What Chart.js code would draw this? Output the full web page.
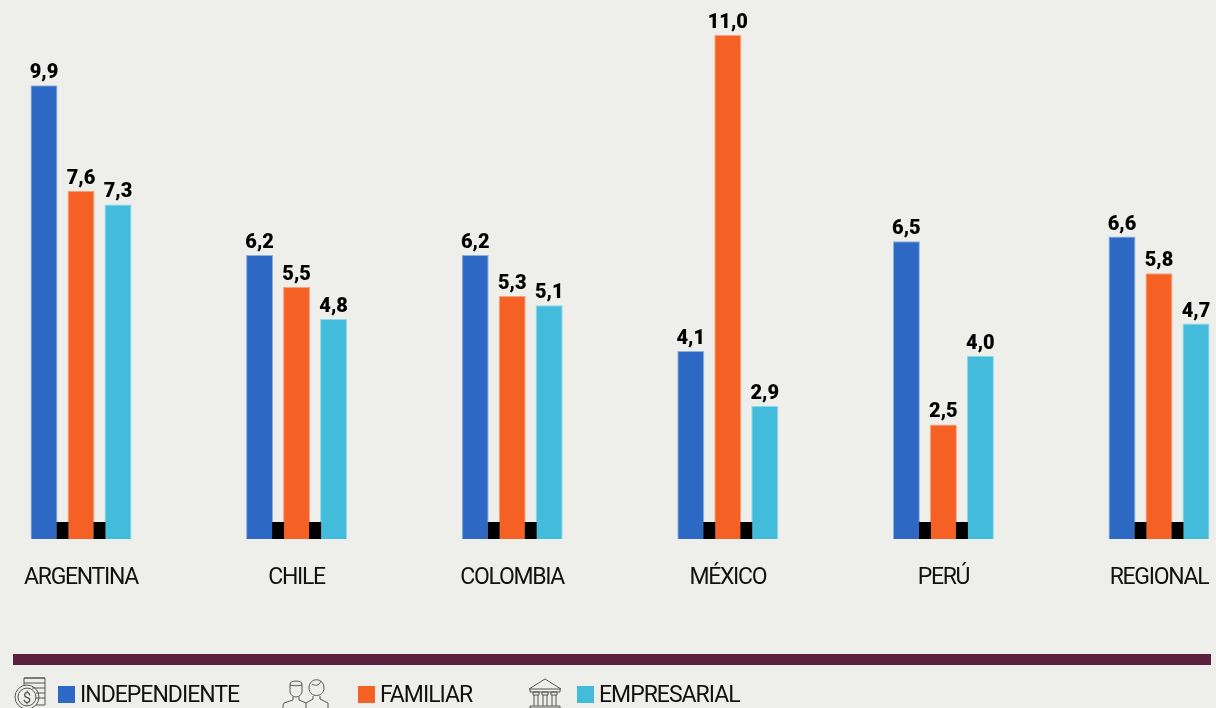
<!DOCTYPE html>
<html lang="es">
<head>
<meta charset="utf-8">
<title>Gráfico</title>
<script src="https://cdn.jsdelivr.net/npm/chart.js@4"></script>
<style>
  html, body { margin: 0; padding: 0; background: #eeefeb; overflow: hidden; }
  #wrap { position: relative; width: 1216px; height: 708px; }
  canvas { position: absolute; left: 0; top: 0; }
  #rule { position: absolute; left: 13px; top: 654px; width: 1198px; height: 11px; background: #5b2040; }
  .legend-item { position: absolute; top: 680px; height: 28px; font: 400 23px Roboto, sans-serif; letter-spacing: -1px; color: #111; line-height: 30px; white-space: nowrap; }
  .legend-item i { position: absolute; left: 0; top: 6px; width: 17px; height: 17px; }
  .legend-item span { position: absolute; left: 22px; top: 0; }
  svg.icon { position: absolute; fill: none; stroke: #555; stroke-width: 1; }
</style>
</head>
<body>
<div id="wrap">
  <canvas id="barChart" width="1216" height="708"></canvas>
  <div id="rule"></div>
  <svg class="icon" style="left:12px;top:677px" width="36" height="31" viewBox="0 0 36 31">
    <path d="M12 8V1H33V28H24M12 1H33M12 6H33M20 11H33M24 16H33M24 21H33"/>
    <circle cx="15" cy="20" r="12"/><circle cx="15" cy="20" r="9"/>
    <text x="15" y="26" text-anchor="middle" font-family="Roboto" font-size="15" fill="#555" stroke="none">$</text>
  </svg>
  <svg class="icon" style="left:282px;top:678px" width="48" height="30" viewBox="0 0 48 30">
    <path d="M8 6C8 2 20 2 20 6V13C20 21 8 21 8 13ZM8 7C12 8 16 8 20 7M11 19V22L2 25C1 26 1 28 1 30M17 19V22L24 25V30"/>
    <path d="M27 10C27 -1 42 -1 42 10C42 20 27 20 27 10ZM30 6C33 8 37 8 39 3M31 18V21L24 25M38 18V21L46 25V30"/>
  </svg>
  <svg class="icon" style="left:527px;top:678px" width="38" height="30" viewBox="0 0 38 30">
    <path d="M2 11L18 1L34 11ZM3 11V14H33V11M6 14H12V17H6ZM15 14H21V17H15ZM24 14H30V17H24ZM7 17V28M11 17V28M16 17V28M20 17V28M25 17V28M29 17V28M3 28H33V30H3Z"/>
  </svg>
</div>
<script>
const categories = ["ARGENTINA", "CHILE", "COLOMBIA", "MÉXICO", "PERÚ", "REGIONAL"];
const seriesNames = ["INDEPENDIENTE", "FAMILIAR", "EMPRESARIAL"];
const independiente = [9.9, 6.2, 6.2, 4.1, 6.5, 6.6];
const familiar = [7.6, 5.5, 5.3, 11.0, 2.5, 5.8];
const empresarial = [7.3, 4.8, 5.1, 2.9, 4.0, 4.7];
const seriesColors = ["#2d69c4", "#f56124", "#43bcdc"];
const seriesEdges = ["#8fb0e0", "#f9a27e", "#8dd8ec"];

// legend squares and names
const legendLeft = [58, 358, 577];
seriesNames.forEach((name, i) => {
  const item = document.createElement("div");
  item.className = "legend-item";
  item.style.left = legendLeft[i] + "px";
  item.innerHTML = `<i style="background:${seriesColors[i]}"></i><span>${name}</span>`;
  document.getElementById("wrap").appendChild(item);
});

// values above bars and black blocks between bars at the base
const barExtras = {
  id: "barExtras",
  beforeDraw(chart) {
    // tighter tick labels, the original face is a narrow one
    chart.ctx.letterSpacing = "-1.3px";
  },
  afterDatasetsDraw(chart) {
    const ctx = chart.ctx;
    const metas = chart.getSortedVisibleDatasetMetas();
    const base = chart.scales.y.getPixelForValue(0);

    ctx.save();
    ctx.letterSpacing = "0px";
    ctx.fillStyle = "#000";
    categories.forEach((_, c) => {
      for (let s = 0; s < metas.length - 1; s++) {
        const left = metas[s].data[c];
        const right = metas[s + 1].data[c];
        const x0 = left.x + left.width / 2 - 1;
        const x1 = right.x - right.width / 2 + 1;
        ctx.fillRect(x0, base - 17, x1 - x0, 17);
      }
    });

    ctx.font = "900 20px Roboto, sans-serif";
    ctx.textAlign = "center";
    ctx.textBaseline = "alphabetic";
    metas.forEach((meta, s) => {
      meta.data.forEach((bar, c) => {
        const value = chart.data.datasets[s].data[c];
        ctx.fillText(value.toFixed(1).replace(".", ","), bar.x, bar.y - 7);
      });
    });
    ctx.restore();
  }
};

const values = [independiente, familiar, empresarial];
new Chart(document.getElementById("barChart").getContext("2d"), {
  type: "bar",
  data: {
    labels: categories,
    datasets: seriesNames.map((name, i) => ({
      label: name,
      data: values[i],
      backgroundColor: seriesColors[i],
      borderColor: seriesEdges[i],
      borderWidth: 1,
      categoryPercentage: 0.515,
      barPercentage: 0.73,
      clip: false
    }))
  },
  options: {
    responsive: false,
    animation: false,
    layout: { padding: { left: 81, right: 57, top: 12, bottom: 0 } },
    plugins: { legend: { display: false }, tooltip: { enabled: false } },
    scales: {
      x: {
        offset: false,
        grid: { display: false },
        border: { display: false },
        afterFit(scale) {
          scale.height = 169;
          scale.paddingLeft = 0;
          scale.paddingRight = 0;
        },
        ticks: {
          color: "#111",
          padding: 17,
          maxRotation: 0,
          autoSkip: false,
          font: { family: "Roboto", size: 23, weight: "400" }
        }
      },
      y: {
        display: false,
        min: 0,
        max: 11.5
      }
    }
  },
  plugins: [barExtras]
});
</script>
</body>
</html>
